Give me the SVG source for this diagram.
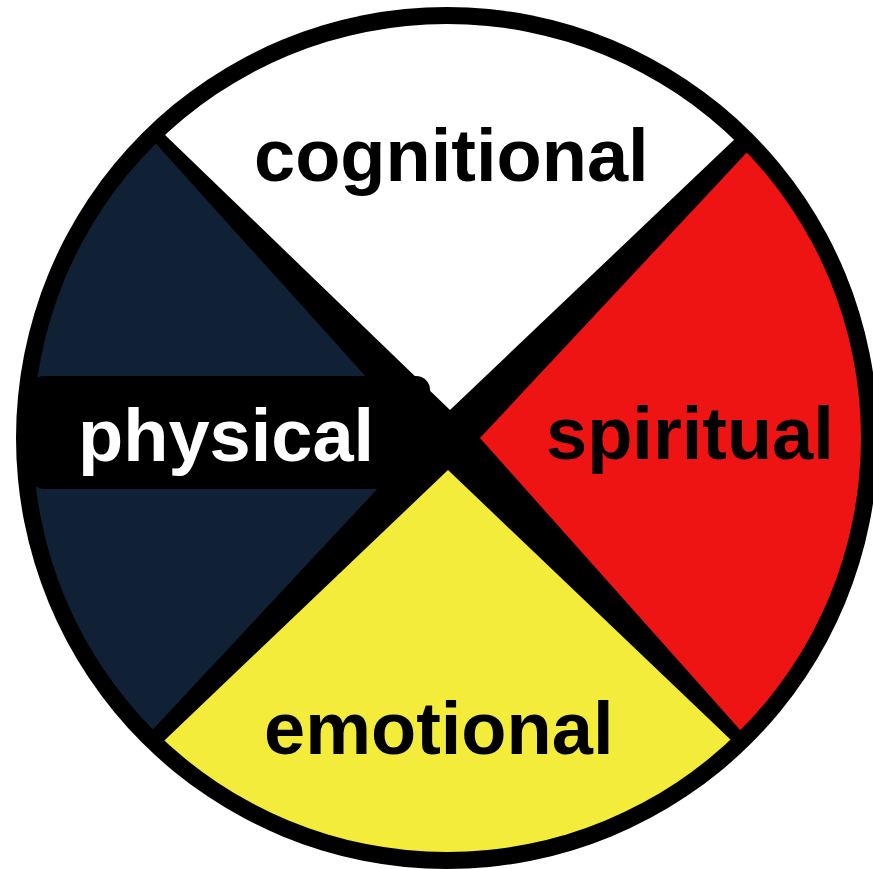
<svg xmlns="http://www.w3.org/2000/svg" width="873" height="869" viewBox="0 0 873 869">
  <style>
    .lbl { font-family: "Liberation Sans", Arial, sans-serif; font-weight: bold; font-size: 74px; fill: #000000; }
    .lbl-w { fill: #ffffff; }
  </style>
  <defs>
    <clipPath id="inner">
      <circle cx="447" cy="438" r="414"/>
    </clipPath>
  </defs>
  <rect x="0" y="0" width="873" height="869" fill="#ffffff"/>
  <g id="wheel">
    <circle cx="447" cy="438" r="431" fill="#000000"/>
  </g>
  <g clip-path="url(#inner)">
    <g id="cognitional">
      <polygon points="450,410 1026,-138 1026,-400 -124,-400 -124,-144" fill="#ffffff"/>
    </g>
    <g id="spiritual">
      <polygon points="480,438 1020,-140 1200,-140 1200,1026 1004,1026" fill="#ef1414"/>
    </g>
    <g id="emotional">
      <polygon points="448,470 1016,1012 1016,1200 -114,1200 -114,1006" fill="#f3ec3b"/>
    </g>
    <g id="physical">
      <polygon points="423,440 -114,-156 -300,-156 -300,1026 -124,1026" fill="#102136"/>
    </g>
  </g>
  <g id="physical-band">
    <rect x="30" y="376" width="400" height="113" rx="14" fill="#000000"/>
  </g>
  <g id="labels">
    <text class="lbl" x="254" y="181">cognitional</text>
    <text class="lbl lbl-w" x="78" y="461" font-size="73">physical</text>
    <text class="lbl" x="546" y="459">spiritual</text>
    <text class="lbl" x="264" y="754">emotional</text>
  </g>
</svg>
